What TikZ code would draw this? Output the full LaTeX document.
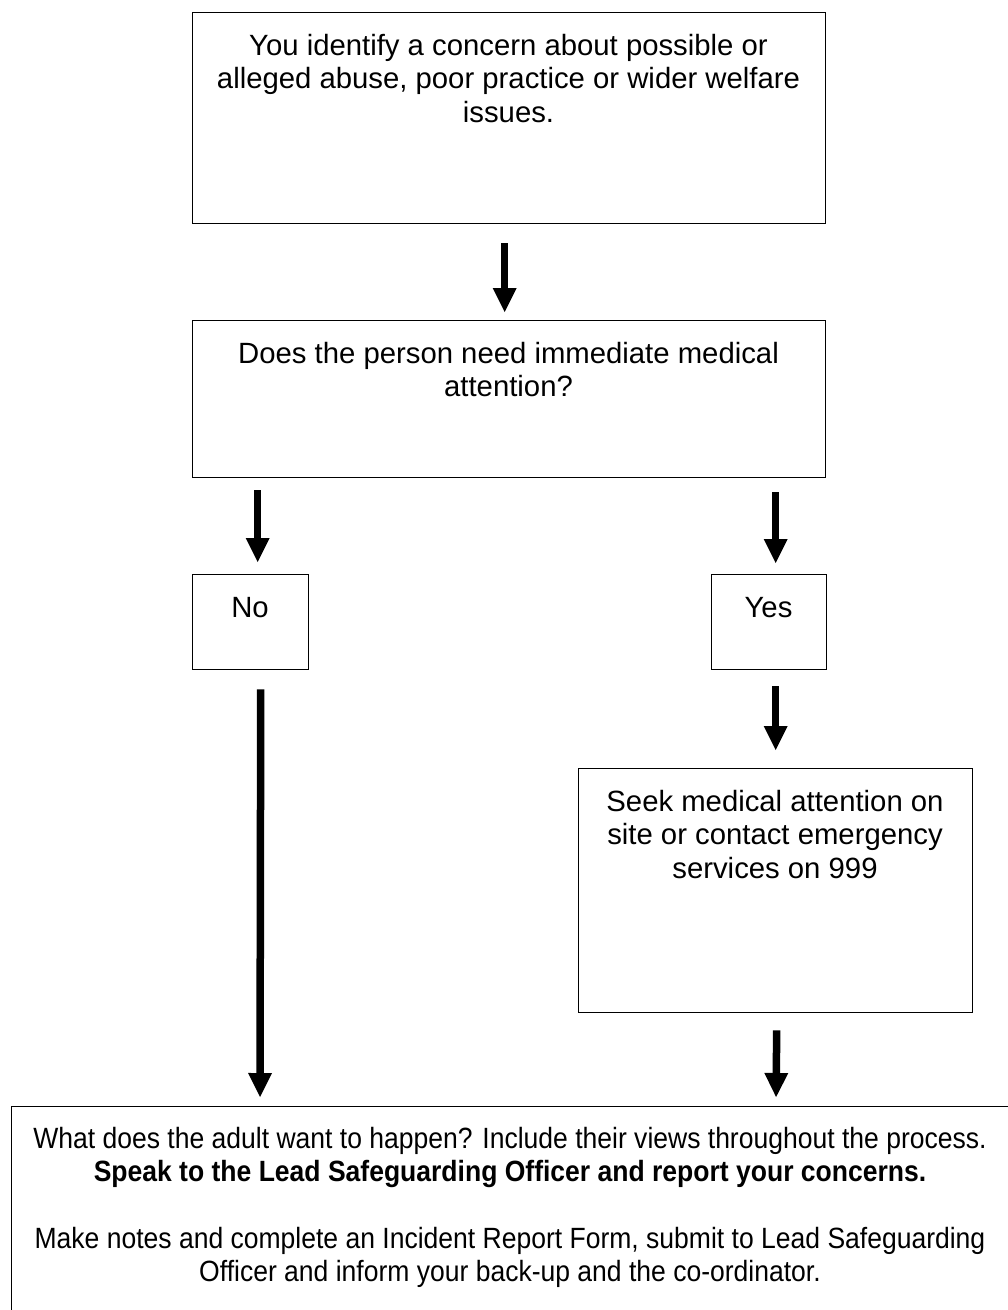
\documentclass[tikz,border=0pt]{standalone}
\usepackage{fontspec}
\setmainfont{Liberation Sans}
\newfontfamily\narrowfont[FakeStretch=0.905]{Liberation Sans}
\usetikzlibrary{arrows.meta}
\begin{document}
\begin{tikzpicture}[x=1pt,y=-1pt,
  box/.style={draw=black, line width=1.4pt, rectangle, inner sep=0pt, anchor=north west},
  txt/.style={anchor=north, align=center, inner sep=0pt, font=\fontsize{29.3}{33.7}\selectfont},
  ntxt/.style={anchor=north, align=center, inner sep=0pt, font=\narrowfont\fontsize{29.3}{33.3}\selectfont},
  arr/.style={line width=7.5pt, -{Triangle[width=24pt,length=24pt,line width=0pt]}}
]
\useasboundingbox (0,0) rectangle (1008,1310);
\clip (0,0) rectangle (1008,1310);
\fill[white] (0,0) rectangle (1008,1310);

% boxes
\node[box, minimum width=633pt, minimum height=211pt] (b1) at (192,12) {};
\node[box, minimum width=633pt, minimum height=157pt] (b2) at (192,320) {};
\node[box, minimum width=116pt, minimum height=95pt] (no) at (192,574) {};
\node[box, minimum width=115pt, minimum height=95pt] (yes) at (711,574) {};
\node[box, minimum width=394pt, minimum height=244pt] (seek) at (578,768) {};
\node[box, minimum width=1010pt, minimum height=230pt] (bot) at (11,1106) {};

% texts
\node[txt] (t1) at (508.5,33.6) {You identify a concern about possible or\\alleged abuse, poor practice or wider welfare\\issues.};
\node[txt] (t2) at (508.5,341.6) {Does the person need immediate medical\\attention?};
\node[txt] (tno) at (250,597) {No};
\node[txt] (tyes) at (768.5,597) {Yes};
\node[txt] (tseek) at (775,789.6) {Seek medical attention on\\site or contact emergency\\services on 999};
\node[ntxt] (tbot) at (510,1127) {What does the adult want to happen? Include their views throughout the process.\\
\textbf{Speak to the Lead Safeguarding Officer and report your concerns.}\\[33.3pt]
Make notes and complete an Incident Report Form, submit to Lead Safeguarding\\
Officer and inform your back-up and the co-ordinator.};

% arrow x positions
\coordinate (lx) at (260,0);
\coordinate (rx) at (776,0);

% arrows
\draw[arr] ([xshift=-4.5pt,yshift=-19pt]b1.south) -- ([xshift=-4.5pt,yshift=8pt]b2.north);
\draw[arr] ([xshift=7pt,yshift=84pt]no.north) -- ([xshift=7pt,yshift=12pt]no.north);
\draw[arr] ([xshift=6.5pt,yshift=82pt]yes.north) -- ([xshift=6.5pt,yshift=11pt]yes.north);
\draw[arr] ([xshift=6.5pt,yshift=-16pt]yes.south) -- ([yshift=18pt]seek.north);
\draw[arr, shorten >=9pt] ([xshift=10pt,yshift=-19pt]no.south) -- (lx |- bot.north);
\draw[arr, shorten >=9pt] ([xshift=1pt,yshift=-17pt]seek.south) -- (rx |- bot.north);
\end{tikzpicture}
\end{document}
